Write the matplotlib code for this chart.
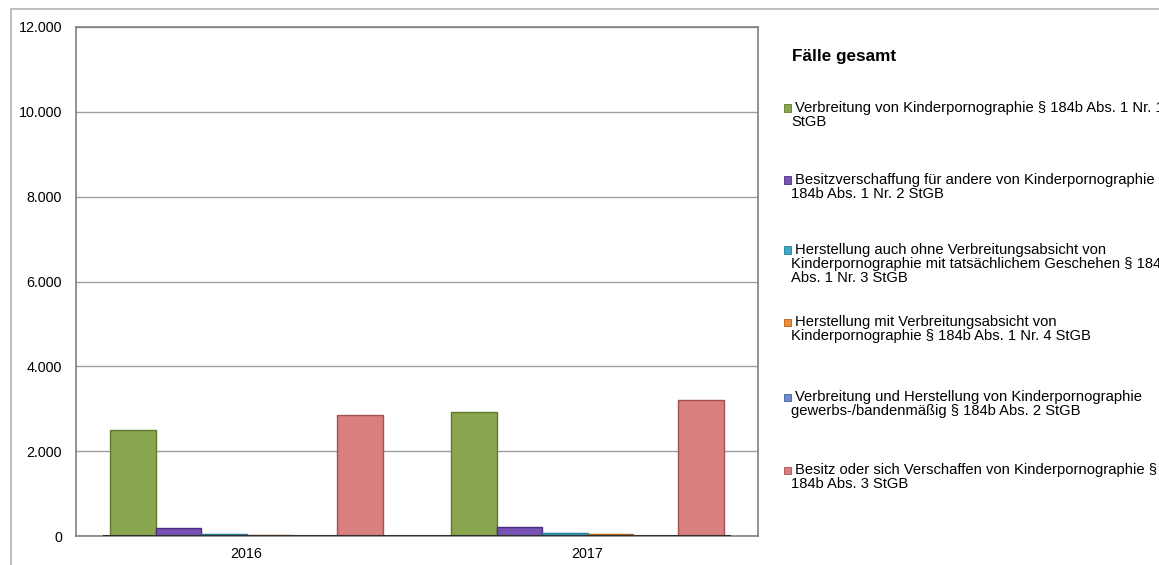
import matplotlib
matplotlib.use("Agg")
import matplotlib.pyplot as plt
import numpy as np
from matplotlib.patches import Rectangle
from matplotlib.ticker import FuncFormatter

plt.rcParams['font.family'] = ['Liberation Sans', 'DejaVu Sans']

years = ["2016", "2017"]
series_labels = [
    ["Verbreitung von Kinderpornographie § 184b Abs. 1 Nr. 1", "StGB"],
    ["Besitzverschaffung für andere von Kinderpornographie §", "184b Abs. 1 Nr. 2 StGB"],
    ["Herstellung auch ohne Verbreitungsabsicht von",
     "Kinderpornographie mit tatsächlichem Geschehen § 184b", "Abs. 1 Nr. 3 StGB"],
    ["Herstellung mit Verbreitungsabsicht von", "Kinderpornographie § 184b Abs. 1 Nr. 4 StGB"],
    ["Verbreitung und Herstellung von Kinderpornographie", "gewerbs-/bandenmäßig § 184b Abs. 2 StGB"],
    ["Besitz oder sich Verschaffen von Kinderpornographie §", "184b Abs. 3 StGB"],
]
cases_2016 = [2490, 195, 55, 35, 10, 2855]
cases_2017 = [2920, 210, 70, 55, 10, 3195]
legend_title = "Fälle gesamt"

colors = ["#8aa64e", "#7552b4", "#39a8c6", "#ee8a34", "#6d8fd0", "#d97f7f"]
edges = ["#5f7a2e", "#4a2f82", "#1f7d98", "#b85f14", "#42609c", "#a25252"]

W, H = 1159, 565
fig = plt.figure(figsize=(W / 100, H / 100), dpi=100)

# outer chart frame
fig.patches.append(Rectangle((11 / W, -0.1), 1.2, (H - 9) / H + 0.1, transform=fig.transFigure,
                             fill=False, edgecolor="#b4b4b4", linewidth=1.2))

ax = fig.add_axes([76 / W, (H - 536) / H, 682 / W, (536 - 27) / H])
values = np.array([cases_2016, cases_2017])
n = len(series_labels)
bw = 0.8 / n
x = np.arange(len(years))
for i in range(n):
    ax.bar(x - 0.4 + bw * (i + 0.5), values[:, i], width=bw, color=colors[i],
           edgecolor=edges[i], linewidth=1.0, zorder=3)

ax.set_xlim(-0.5, 1.5)
ax.set_ylim(0, 12000)
ax.set_yticks(np.arange(0, 12001, 2000))
ax.yaxis.set_major_formatter(FuncFormatter(lambda v, p: f"{int(v):,}".replace(",", ".")))
ax.set_xticks(x)
ax.set_xticklabels(years)
ax.tick_params(axis="both", length=0, labelsize=10.3, colors="#000000")
ax.tick_params(axis="y", pad=10)
ax.tick_params(axis="x", pad=8)
ax.grid(axis="y", color="#a0a0a0", linewidth=1, zorder=0)
for s in ax.spines.values():
    s.set_color("#7f7f7f")
    s.set_linewidth(1.2)
ax.axhline(0, xmin=28 / 682, xmax=654 / 682, color="#303030", linewidth=1.5, zorder=4)

# legend drawn as text blocks; long lines run off the right edge
fig.text(792 / W, 1 - 56 / H, legend_title, fontsize=12.3, fontweight="bold", va="center", ha="left")
first_line_y = [108, 180, 250, 322, 397, 470]
for i, lines in enumerate(series_labels):
    y0 = first_line_y[i]
    fig.patches.append(Rectangle((784 / W, 1 - (y0 + 3.5) / H), 7 / W, 7 / H, transform=fig.transFigure,
                                 facecolor=colors[i], edgecolor=edges[i], linewidth=0.6))
    fig.text(795 / W, 1 - y0 / H, lines[0], fontsize=10.6, va="center", ha="left")
    for k, ln in enumerate(lines[1:], start=1):
        fig.text(791 / W, 1 - (y0 + 14 * k) / H, ln, fontsize=10.6, va="center", ha="left")

fig.savefig("out.png", dpi=100)
